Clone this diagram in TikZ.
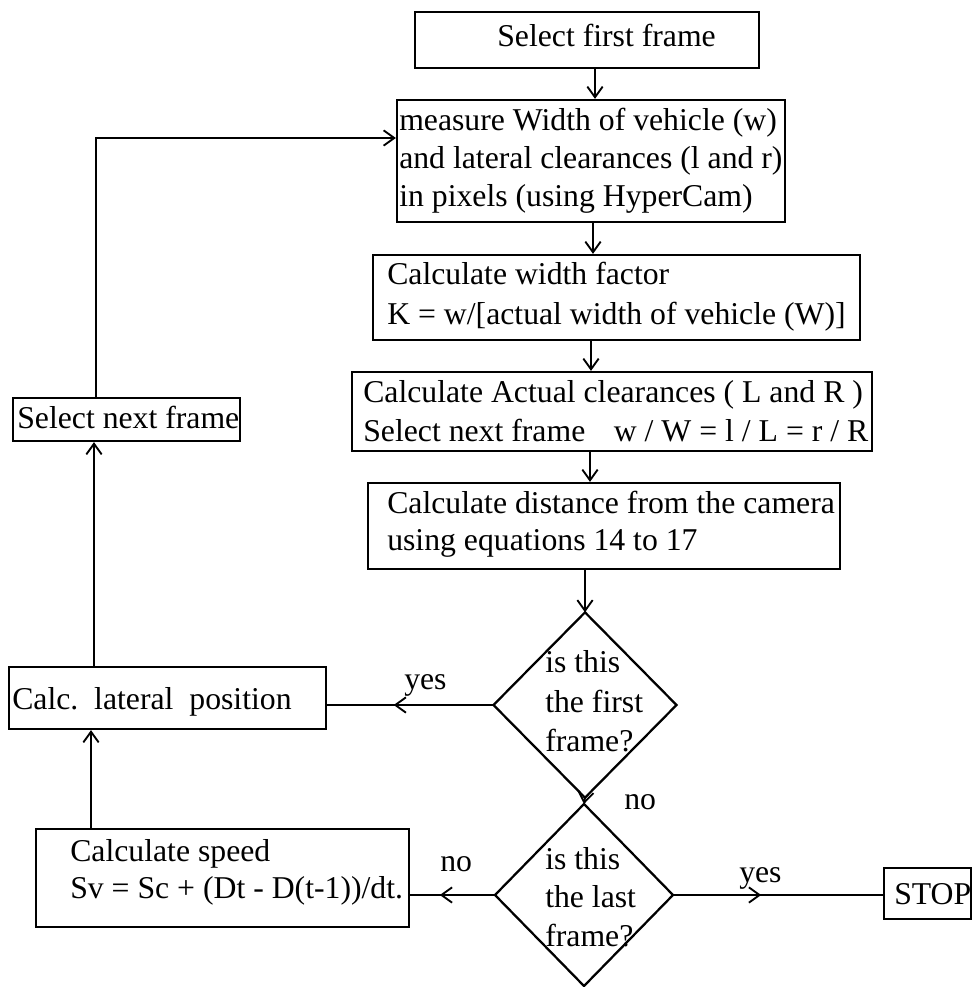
\documentclass[tikz,border=0pt]{standalone}
\usepackage{fontspec}
\setmainfont{Liberation Serif}
\usetikzlibrary{arrows.meta,shapes.geometric,fit,decorations.markings}
\begin{document}
\begin{tikzpicture}[x=0.75pt,y=-0.75pt,
  box/.style={draw,line width=1.7pt,inner sep=0pt,rectangle},
  dia/.style={draw,line width=1.7pt,inner sep=0pt,outer sep=0pt,diamond},
  txt/.style={anchor=base west,inner sep=0pt,font=\fontsize{23.8}{28}\selectfont},
  arr/.style={line width=1.4pt,-{Straight Barb[length=8pt,width=11.5pt]}},
  midarr/.style={line width=1.4pt,postaction={decorate},
    decoration={markings,mark=at position #1 with {\arrow{Straight Barb[length=8pt,width=11.5pt]}}}}
]
\useasboundingbox (0,0) rectangle (974,987);

% boxes
\node[box,fit={(415,12)(759,68)}] (first) {};
\node[box,fit={(397,100)(785,222)}] (meas) {};
\node[box,fit={(373,255)(860,340)}] (wf) {};
\node[box,fit={(352,372)(872,451)}] (act) {};
\node[box,fit={(368,483)(840,569)}] (dist) {};
\node[box,fit={(13,398)(240,441)}] (nxt) {};
\node[box,fit={(9,667)(326,729)}] (lat) {};
\node[box,fit={(36,829)(409,927)}] (spd) {};
\node[box,fit={(884,868)(971,919)}] (stop) {};
\node[dia,minimum width=137.25pt,minimum height=139pt] (d1) at (585,705) {};
\node[dia,minimum width=133.5pt,minimum height=136.5pt] (d2) at (584,895) {};

% texts
\node[txt] (t1) at (497,47) {Select first frame};
\node[txt] (t2a) at (399,131) {measure Width of vehicle (w)};
\node[txt] (t2b) at (399,169) {and lateral clearances (l and r)};
\node[txt] (t2c) at (399,207) {in pixels (using HyperCam)};
\node[txt] (t3a) at (387,285) {Calculate width factor};
\node[txt] (t3b) at (387,324) {K = w/[actual width of vehicle (W)]};
\node[txt] (t4a) at (363,402) {Calculate Actual clearances ( L and R )};
\node[txt] (t4b) at (363,441) {Select next frame\hspace{0.65em} w / W = l / L = r / R};
\node[txt] (t5a) at (387,513) {Calculate distance from the camera};
\node[txt] (t5b) at (387,550) {using equations 14 to 17};
\node[txt] (q1a) at (545,672) {is this};
\node[txt] (q1b) at (545,712) {the first};
\node[txt] (q1c) at (545,751) {frame?};
\node[txt] (q2a) at (545,869) {is this};
\node[txt] (q2b) at (545,907) {the last};
\node[txt] (q2c) at (545,946) {frame?};
\node[txt] (tn) at (17,428) {Select next frame};
\node[txt] (tl) at (12,709) {Calc.\ \ lateral\ \ position};
\node[txt] (ts1) at (70,861) {Calculate speed};
\node[txt] (ts2) at (70,898) {Sv = Sc + (Dt - D(t-1))/dt.};
\node[txt] (tstop) at (894,904) {STOP};
\node[txt] (ly1) at (404,689) {yes};
\node[txt] (ln1) at (624,809) {no};
\node[txt] (ln2) at (440,871) {no};
\node[txt] (ly2) at (739,882) {yes};

% helper coordinates
\coordinate (xa) at (595,0);
\coordinate (xb) at (593,0);
\coordinate (xc) at (591,0);
\coordinate (xd) at (590,0);
\coordinate (xe) at (91,0);
\coordinate (xf) at (94,0);
\coordinate (fb) at (96,138);

% connectors
\draw[arr] (first.south -| xa) -- (meas.north -| xa);
\draw[arr] (meas.south -| xb) -- (wf.north -| xb);
\draw[arr] (wf.south -| xc) -- (act.north -| xc);
\draw[arr] (act.south -| xd) -- (dist.north -| xd);
\draw[arr] (dist.south -| d1.north) -- (d1.north);
\draw[arr] (d1.south) -- (d2.north);
\draw[midarr=0.6] (d1.west) -- (d1.west -| lat.east);
\draw[midarr=0.65] (d2.west) -- (d2.west -| spd.east);
\draw[midarr=0.42] (d2.east) -- (d2.east -| stop.west);
\draw[arr] (spd.north -| xe) -- (lat.south -| xe);
\draw[arr] (lat.north -| xf) -- (nxt.south -| xf);
\draw[arr] (nxt.north -| fb) |- (meas.west |- fb);
\end{tikzpicture}
\end{document}
